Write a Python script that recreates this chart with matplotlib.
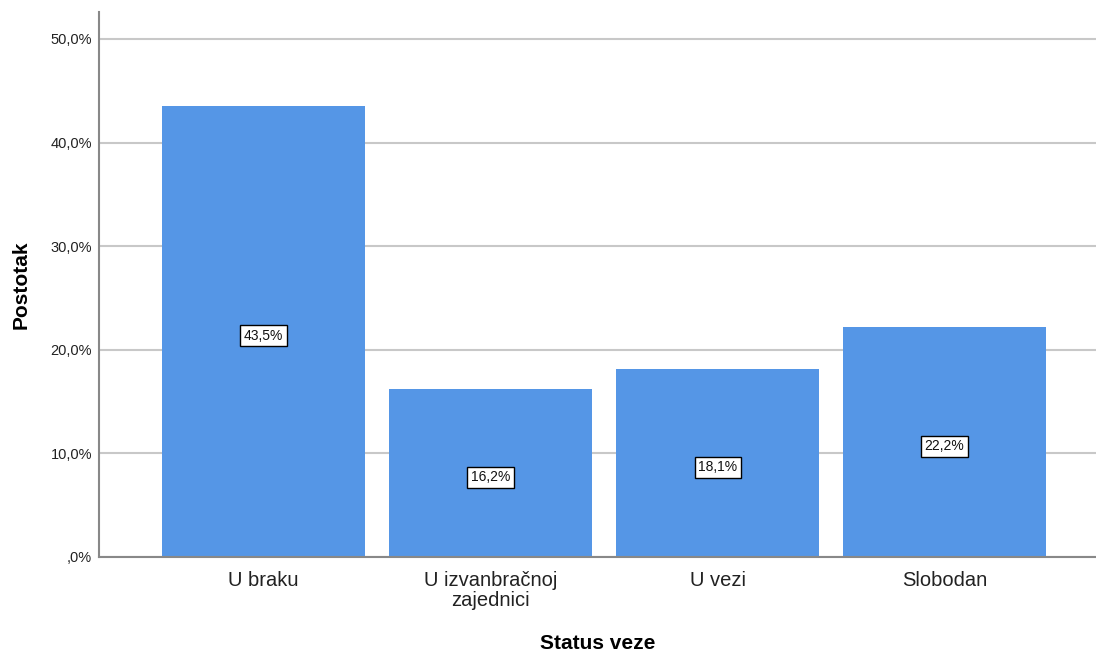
import matplotlib
matplotlib.use("Agg")
import matplotlib.pyplot as plt
from matplotlib.ticker import FuncFormatter

categories = ["U braku", "U izvanbračnoj\nzajednici", "U vezi", "Slobodan"]
values = [43.5, 16.2, 18.1, 22.2]
yticks = [0, 10, 20, 30, 40, 50]

plt.rcParams['font.family'] = ['Liberation Sans', 'DejaVu Sans']

fig = plt.figure(figsize=(10.96, 6.54), dpi=100)
ax = fig.add_axes([99/1096, 1-557/654, 1-99/1096, (557-12)/654])

x = list(range(len(categories)))
ax.bar(x, values, width=0.894, color='#5596E6', zorder=3)
for xi, v in zip(x, values):
    ax.annotate(f"{v:.1f}%".replace('.', ','), xy=(xi, v/2), xytext=(0, -3),
                textcoords='offset points', ha='center', va='center',
                fontsize=10, zorder=4, color='#111111',
                bbox=dict(boxstyle='square,pad=0.25', fc='white', ec='black', lw=1))


def fmt(v, p):
    s = f"{v:.1f}%".replace('.', ',')
    return s[1:] if v == 0 else s


ax.set_xlim(-0.7247, 3.667)
ax.set_ylim(0, 52.6)
ax.set_yticks(yticks)
ax.yaxis.set_major_formatter(FuncFormatter(fmt))
ax.set_xticks(x)
ax.set_xticklabels(categories, fontsize=14.5, color='#222222', linespacing=1.1)
ax.tick_params(axis='y', length=0, labelsize=10.5, pad=5, labelcolor='#222222')
ax.tick_params(axis='x', length=0, pad=10)
ax.grid(axis='y', color='#c8c8c8', lw=1.5, zorder=0)
ax.set_axisbelow(True)
for s in ['top', 'right']:
    ax.spines[s].set_visible(False)
for s in ['left', 'bottom']:
    ax.spines[s].set_color('#888888')
    ax.spines[s].set_linewidth(1.5)
    ax.spines[s].set_zorder(5)
ax.set_xlabel("Status veze", fontsize=15, fontweight='bold', labelpad=17)
ax.set_ylabel("Postotak", fontsize=15, fontweight='bold', labelpad=14)

fig.savefig("out.png", dpi=100)
